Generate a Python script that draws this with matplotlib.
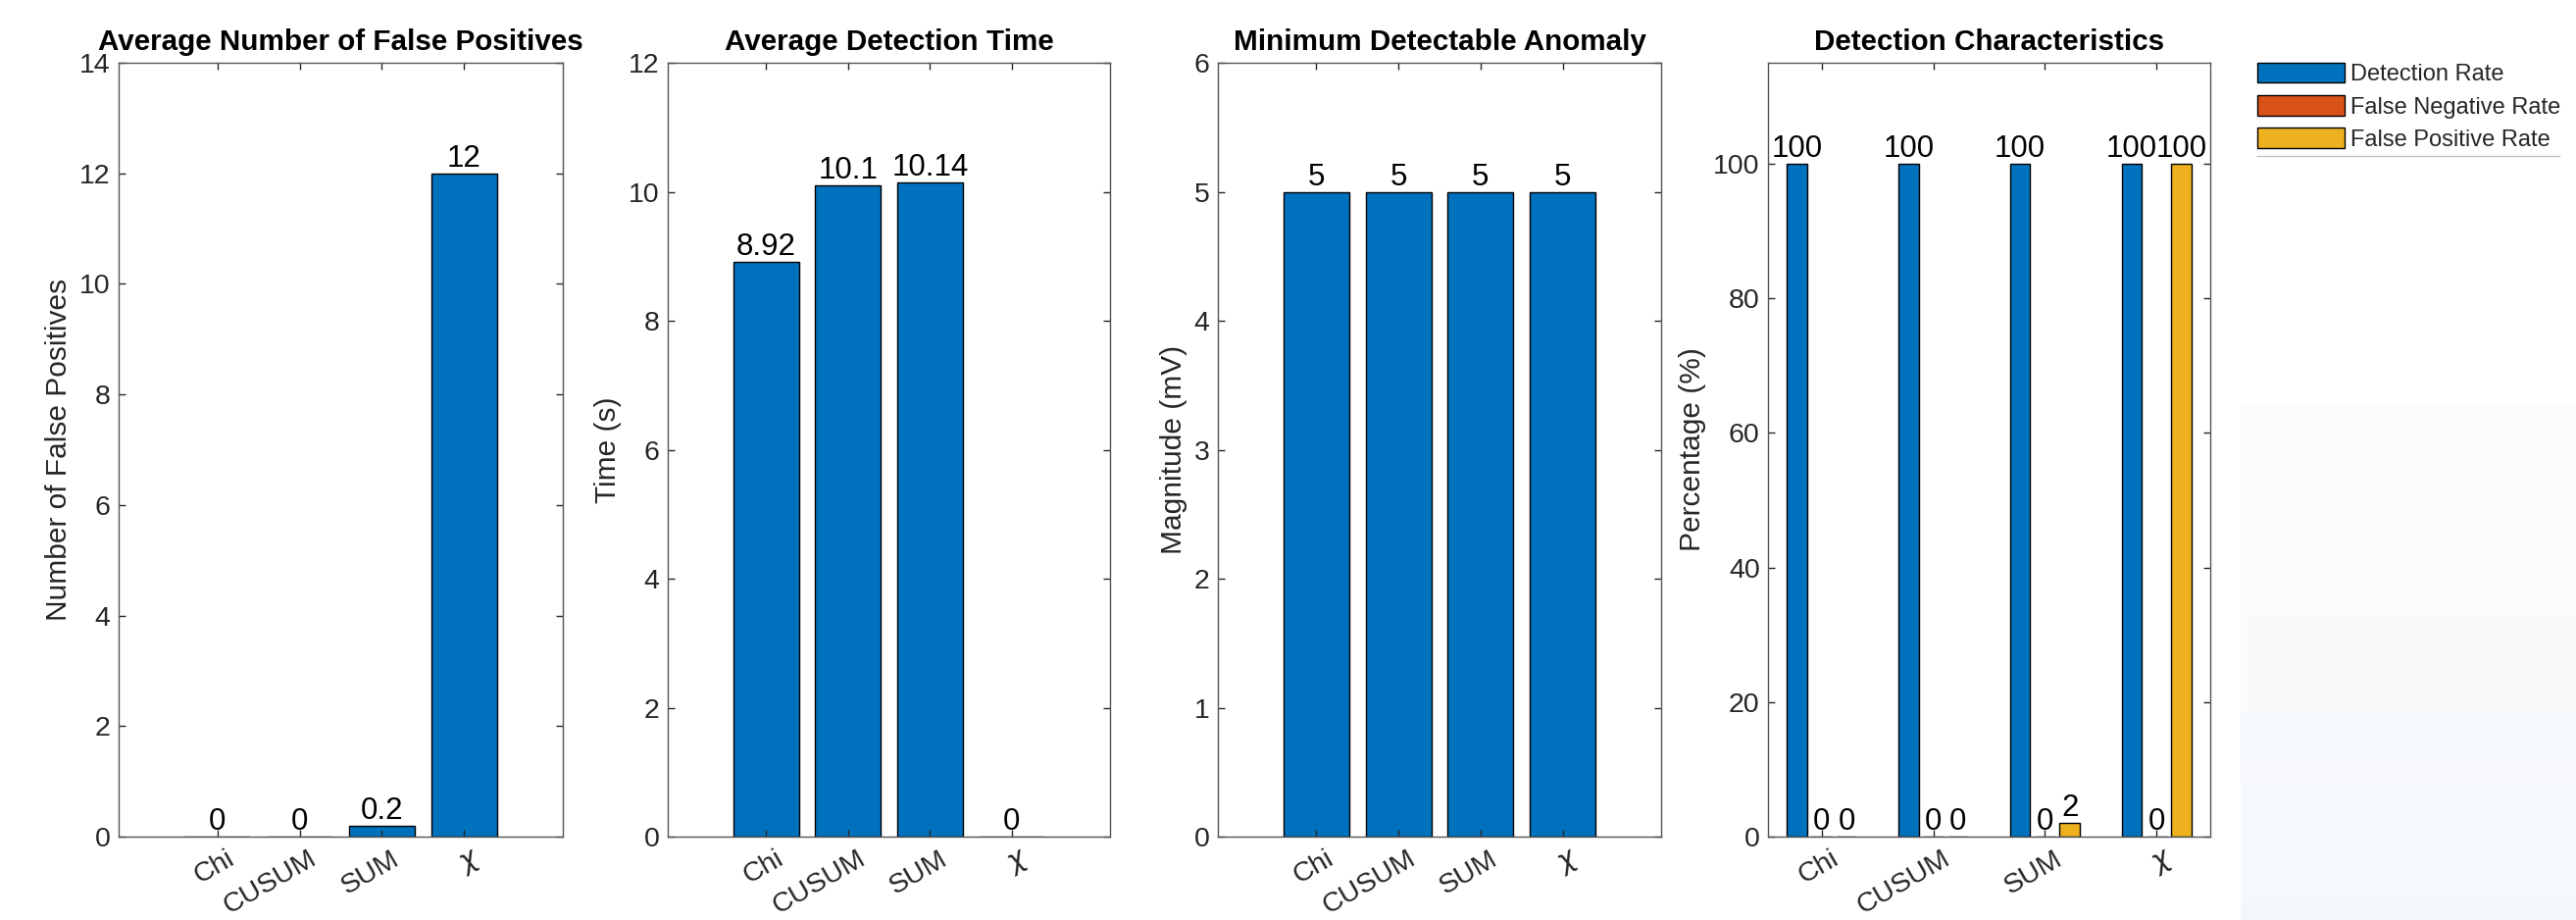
import numpy as np
import matplotlib
matplotlib.use("Agg")
import matplotlib.pyplot as plt
from matplotlib.lines import Line2D
from matplotlib.transforms import ScaledTranslation

plt.rcParams['font.family'] = ['Liberation Sans', 'DejaVu Sans']

# data
methods = ['Chi', 'CUSUM', 'SUM', r'$\chi$']
false_positives = [0, 0, 0.2, 12]
detection_time = [8.92, 10.1, 10.14, 0]
min_anomaly = [5, 5, 5, 5]
detection_rate = [100, 100, 100, 100]
false_negative_rate = [0, 0, 0, 0]
false_positive_rate = [0, 0, 2, 100]
rate_names = ['Detection Rate', 'False Negative Rate', 'False Positive Rate']

BLUE, ORANGE, YELLOW = '#0072BD', '#D95319', '#EDB120'
AXC = '#262626'

W, H = 2627, 938
fig = plt.figure(figsize=(W / 100, H / 100), dpi=100)


def box(l, r, t=64, b=853):
    return [l / W, 1 - b / H, (r - l) / W, (b - t) / H]


def style(ax, title, ylabel, ylim, yticks):
    ax.set_title(title, fontsize=21.3, fontweight='bold', pad=9.5)
    ax.set_ylabel(ylabel, fontsize=21.5, color=AXC, labelpad=5)
    ax.set_ylim(*ylim)
    ax.set_yticks(yticks)
    ax.set_xticks(np.arange(1, 5))
    ax.set_xticklabels(methods, rotation=30, ha='right', rotation_mode='anchor')
    ax.tick_params(direction='in', length=5, width=1, colors=AXC, labelsize=20.5,
                   top=True, right=True)
    ax.tick_params(axis='x', pad=7)
    ax.tick_params(axis='y', pad=6)
    off = ScaledTranslation(9 / 100, 0, fig.dpi_scale_trans)
    for lab in ax.get_xticklabels():
        lab.set_transform(lab.get_transform() + off)
    for s in ax.spines.values():
        s.set_color('#555555')
        s.set_linewidth(1)


def single(l, r, vals, title, ylabel, ylim, yticks):
    ax = fig.add_axes(box(l, r))
    x = np.arange(1, 5)
    ax.bar(x, vals, 0.8, color=BLUE, edgecolor='black', linewidth=1)
    for xi, v in zip(x, vals):
        ax.text(xi, v, '{:g}'.format(v), ha='center', va='bottom', fontsize=22.5)
    ax.set_xlim(-0.2, 5.2)
    style(ax, title, ylabel, ylim, yticks)
    return ax


single(121, 574, false_positives, 'Average Number of False Positives',
       'Number of False Positives', (0, 14), range(0, 15, 2))
single(681, 1132, detection_time, 'Average Detection Time',
       'Time (s)', (0, 12), range(0, 13, 2))
single(1242, 1694, min_anomaly, 'Minimum Detectable Anomaly',
       'Magnitude (mV)', (0, 6), range(0, 7))

ax4 = fig.add_axes(box(1803, 2254))
x = np.arange(1, 5)
bw = 0.18
handles = []
for k, (vals, c) in enumerate(zip([detection_rate, false_negative_rate, false_positive_rate],
                                  [BLUE, ORANGE, YELLOW])):
    xs = x + (k - 1) * 0.222
    h = ax4.bar(xs, vals, bw, color=c, edgecolor='black', linewidth=1, label=rate_names[k])
    handles.append(h)
    for xi, v in zip(xs, vals):
        ax4.text(xi, v, '{:g}'.format(v), ha='center', va='bottom', fontsize=22.5)
ax4.set_xlim(0.52, 4.48)
style(ax4, 'Detection Characteristics', 'Percentage (%)', (0, 115), range(0, 101, 20))

# faint tinted area at lower right of the screenshot
bg = fig.add_axes(box(2285, 2627, 412, 938), zorder=-5)
top = np.array([0.99, 0.99, 0.99])
bot = np.array([0.961, 0.976, 0.988])
t = np.linspace(0, 1, 200)[:, None]
grad = (top + (bot - top) * t)[:, None, :]
bg.imshow(grad, aspect='auto', extent=(0, 1, 0, 1))
bg.axis('off')

leg = fig.legend(handles=handles, loc='upper left',
                 bbox_to_anchor=(2302 / W, 1 - 64 / H), frameon=False,
                 fontsize=17, handlelength=3.77, handleheight=0.95,
                 handletextpad=0.27, labelspacing=0.42, borderpad=0, borderaxespad=0)
for txt in leg.get_texts():
    txt.set_color(AXC)
fig.add_artist(Line2D([2302 / W, 2610 / W], [1 - 159 / H] * 2, color='#bfbfbf', lw=1))

fig.savefig('out.png', dpi=100)
